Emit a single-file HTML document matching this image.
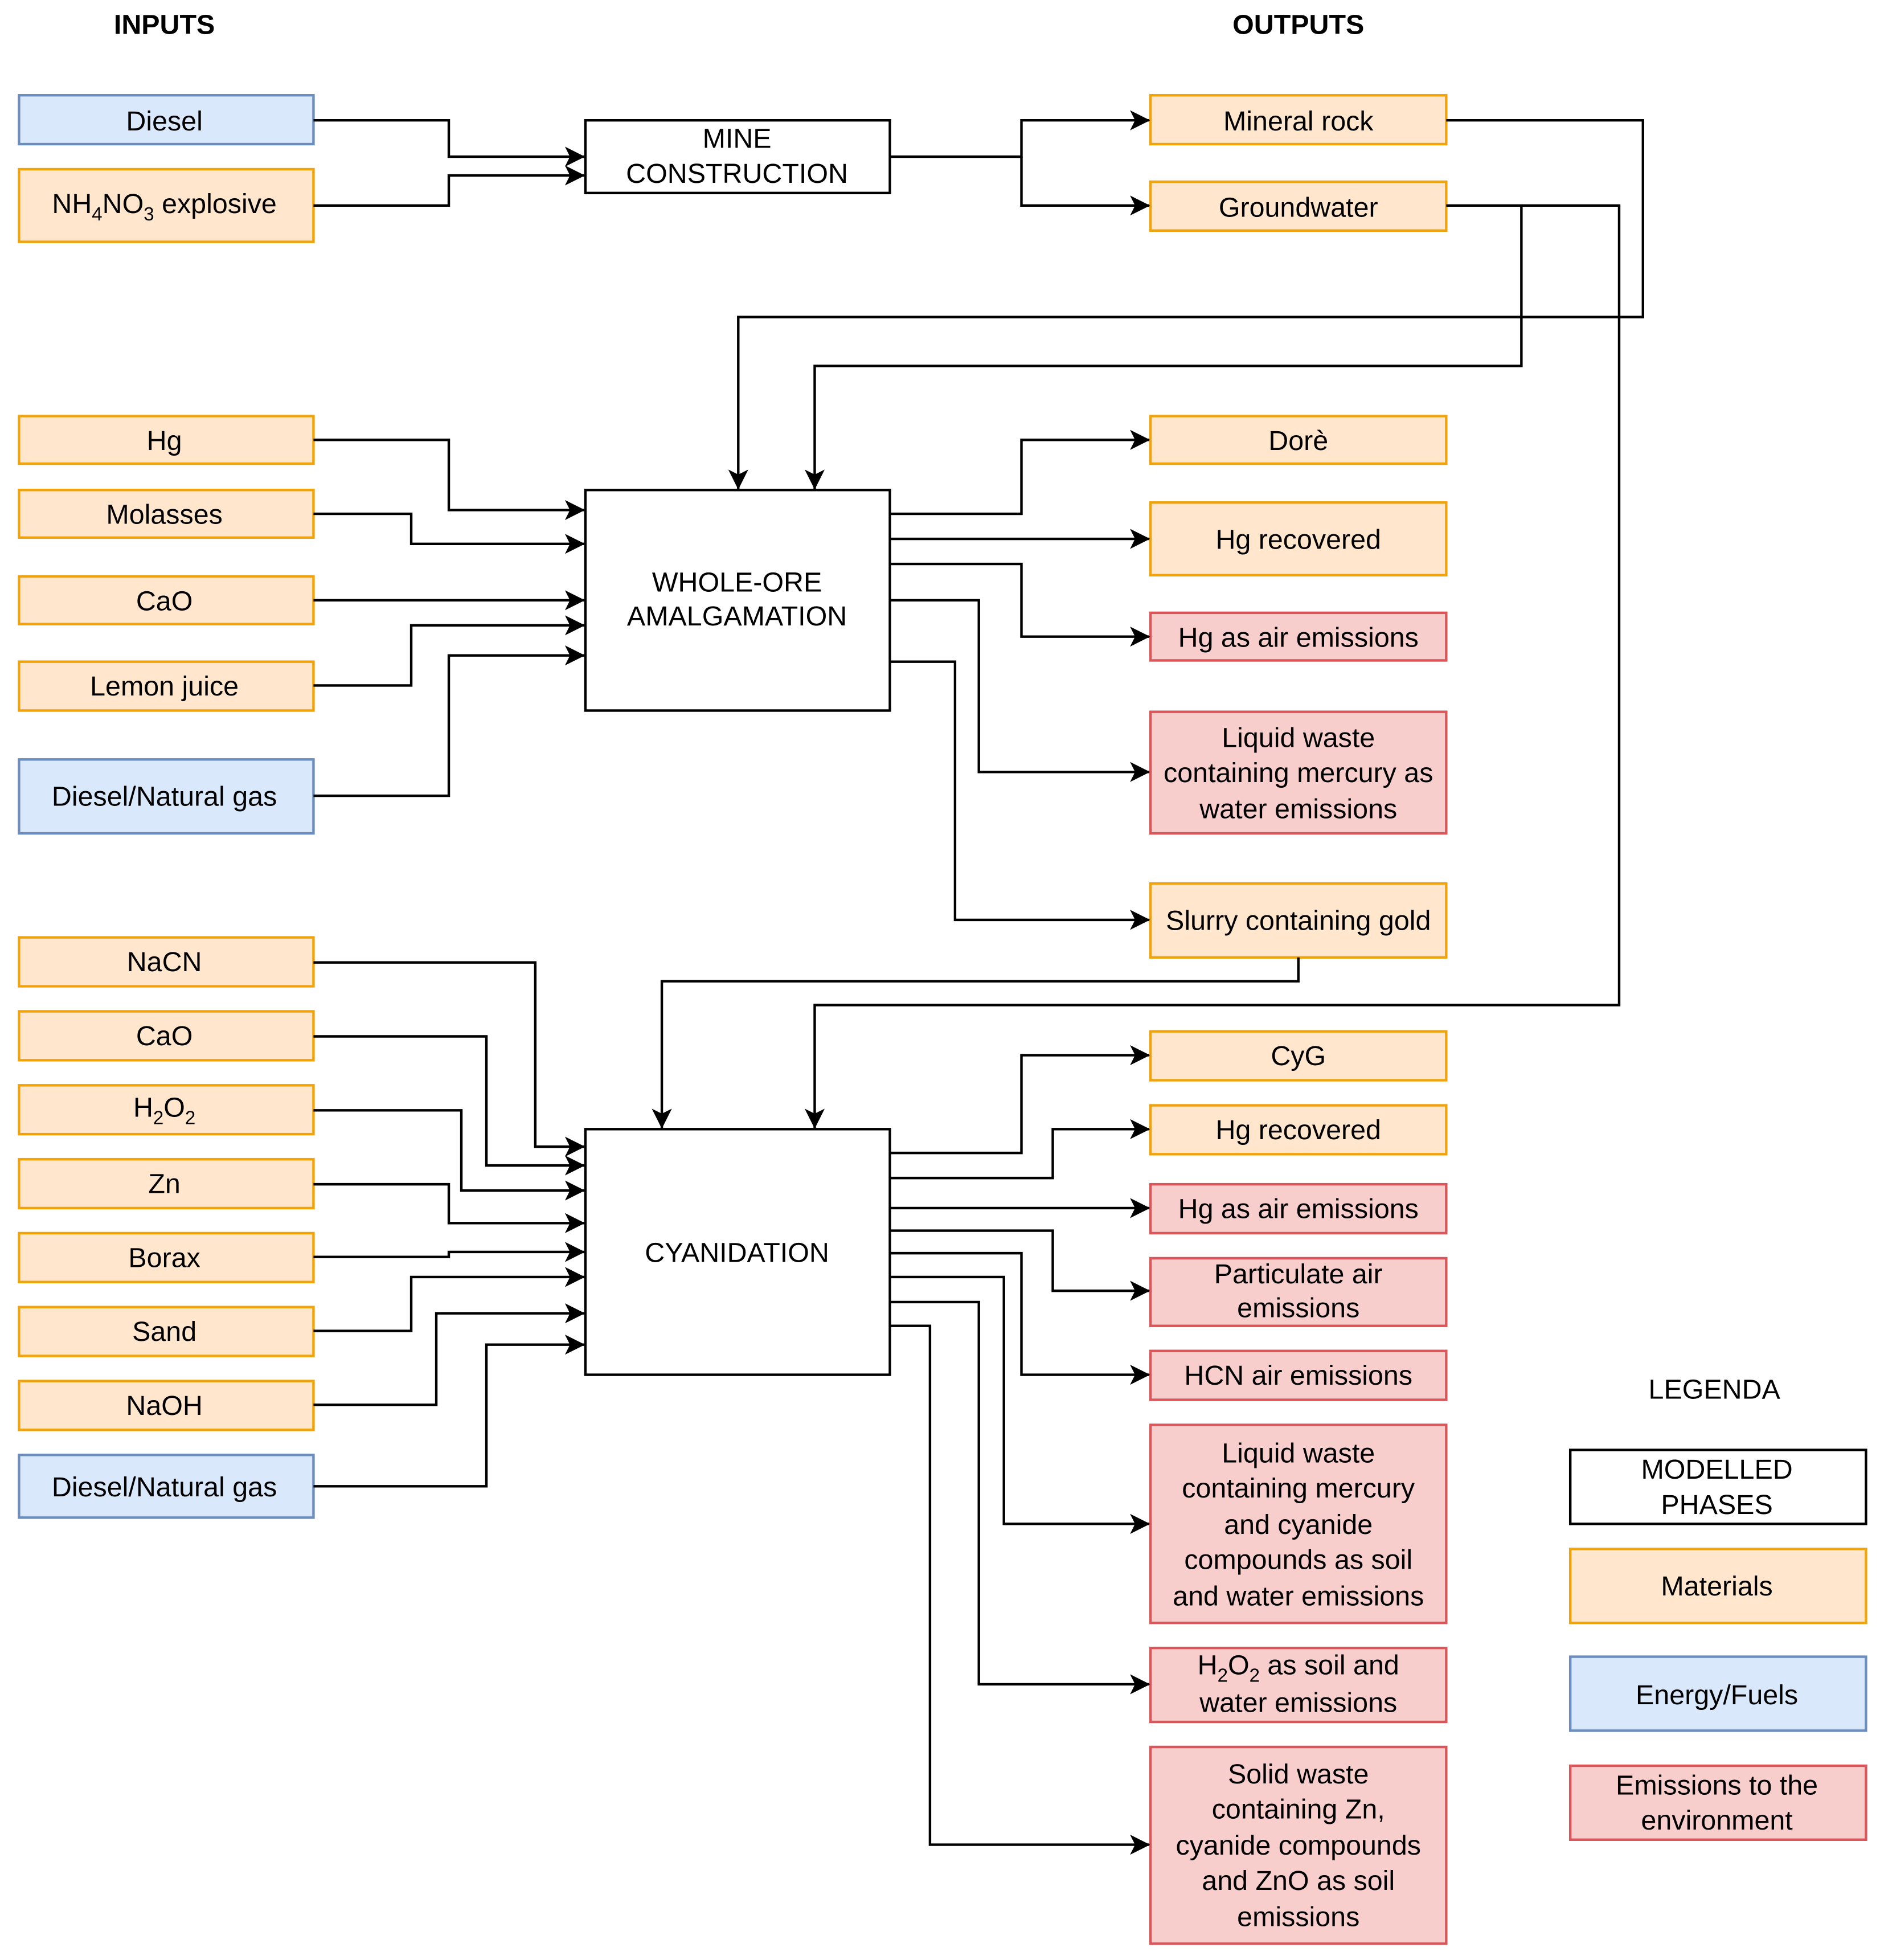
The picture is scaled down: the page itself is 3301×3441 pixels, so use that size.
<!DOCTYPE html>
<html><head><meta charset="utf-8"><style>
html,body{margin:0;padding:0;background:#fff;}
svg{display:block;}
text{font-family:"Liberation Sans",Arial,sans-serif;font-size:22px;fill:#000;}
</style></head><body>
<svg width="3301" height="3441" viewBox="0 0 1500 1564" xmlns="http://www.w3.org/2000/svg">
<defs>
<marker id="a" viewBox="0 0 12 12" refX="11.5" refY="6" markerWidth="16" markerHeight="16" markerUnits="userSpaceOnUse" orient="auto">
<path d="M0,0 L12,6 L0,12 L3,6 Z" fill="#000"/>
</marker>
</defs>
<style>
.m{fill:#ffe6cc;stroke:#f0a30a;stroke-width:2}
.e{fill:#dae8fc;stroke:#6c8ebf;stroke-width:2}
.r{fill:#f8cecc;stroke:#d9575a;stroke-width:2}
.p{fill:#fff;stroke:#000;stroke-width:2}
.c{fill:none;stroke:#000;stroke-width:2;marker-end:url(#a)}
</style>
<text x="131" y="27" text-anchor="middle" font-weight="bold">INPUTS</text>
<text x="1036" y="27" text-anchor="middle" font-weight="bold">OUTPUTS</text>

<rect class="e" x="15" y="76" width="235" height="39"/><text x="131" y="104" text-anchor="middle">Diesel</text>
<rect class="m" x="15" y="135" width="235" height="58"/><text x="131" y="170" text-anchor="middle">NH<tspan font-size="15" dy="6">4</tspan><tspan dy="-6">NO</tspan><tspan font-size="15" dy="6">3</tspan><tspan dy="-6"> explosive</tspan></text>

<rect class="m" x="15" y="332" width="235" height="38"/><text x="131" y="359" text-anchor="middle">Hg</text>
<rect class="m" x="15" y="391" width="235" height="38"/><text x="131" y="418" text-anchor="middle">Molasses</text>
<rect class="m" x="15" y="460" width="235" height="38"/><text x="131" y="487" text-anchor="middle">CaO</text>
<rect class="m" x="15" y="528" width="235" height="39"/><text x="131" y="555" text-anchor="middle">Lemon juice</text>
<rect class="e" x="15" y="606" width="235" height="59"/><text x="131" y="643" text-anchor="middle">Diesel/Natural gas</text>

<rect class="m" x="15" y="748" width="235" height="39"/><text x="131" y="775" text-anchor="middle">NaCN</text>
<rect class="m" x="15" y="807" width="235" height="39"/><text x="131" y="834" text-anchor="middle">CaO</text>
<rect class="m" x="15" y="866" width="235" height="39"/><text x="131" y="891" text-anchor="middle">H<tspan font-size="15" dy="6">2</tspan><tspan dy="-6">O</tspan><tspan font-size="15" dy="6">2</tspan></text>
<rect class="m" x="15" y="925" width="235" height="39"/><text x="131" y="952" text-anchor="middle">Zn</text>
<rect class="m" x="15" y="984" width="235" height="39"/><text x="131" y="1011" text-anchor="middle">Borax</text>
<rect class="m" x="15" y="1043" width="235" height="39"/><text x="131" y="1070" text-anchor="middle">Sand</text>
<rect class="m" x="15" y="1102" width="235" height="39"/><text x="131" y="1129" text-anchor="middle">NaOH</text>
<rect class="e" x="15" y="1161" width="235" height="50"/><text x="131" y="1194" text-anchor="middle">Diesel/Natural gas</text>

<rect class="p" x="467" y="96" width="243" height="58"/>
<text x="588" y="118" text-anchor="middle">MINE</text><text x="588" y="146" text-anchor="middle">CONSTRUCTION</text>
<rect class="p" x="467" y="391" width="243" height="176"/>
<text x="588" y="472" text-anchor="middle">WHOLE-ORE</text><text x="588" y="499" text-anchor="middle">AMALGAMATION</text>
<rect class="p" x="467" y="901" width="243" height="196"/>
<text x="588" y="1007" text-anchor="middle">CYANIDATION</text>

<rect class="m" x="918" y="76" width="236" height="39"/><text x="1036" y="104" text-anchor="middle">Mineral rock</text>
<rect class="m" x="918" y="145" width="236" height="39"/><text x="1036" y="173" text-anchor="middle">Groundwater</text>
<rect class="m" x="918" y="332" width="236" height="38"/><text x="1036" y="359" text-anchor="middle">Dorè</text>
<rect class="m" x="918" y="401" width="236" height="58"/><text x="1036" y="438" text-anchor="middle">Hg recovered</text>
<rect class="r" x="918" y="489" width="236" height="38"/><text x="1036" y="516" text-anchor="middle">Hg as air emissions</text>
<rect class="r" x="918" y="568" width="236" height="97"/>
<text x="1036" y="596" text-anchor="middle">Liquid waste</text><text x="1036" y="624" text-anchor="middle">containing mercury as</text><text x="1036" y="653" text-anchor="middle">water emissions</text>
<rect class="m" x="918" y="705" width="236" height="59"/><text x="1036" y="742" text-anchor="middle">Slurry containing gold</text>

<rect class="m" x="918" y="823" width="236" height="39"/><text x="1036" y="850" text-anchor="middle">CyG</text>
<rect class="m" x="918" y="882" width="236" height="39"/><text x="1036" y="909" text-anchor="middle">Hg recovered</text>
<rect class="r" x="918" y="945" width="236" height="39"/><text x="1036" y="972" text-anchor="middle">Hg as air emissions</text>
<rect class="r" x="918" y="1004" width="236" height="54"/>
<text x="1036" y="1024" text-anchor="middle">Particulate air</text><text x="1036" y="1051" text-anchor="middle">emissions</text>
<rect class="r" x="918" y="1078" width="236" height="39"/><text x="1036" y="1105" text-anchor="middle">HCN air emissions</text>
<rect class="r" x="918" y="1137" width="236" height="158"/>
<text x="1036" y="1167" text-anchor="middle">Liquid waste</text><text x="1036" y="1195" text-anchor="middle">containing mercury</text><text x="1036" y="1224" text-anchor="middle">and cyanide</text><text x="1036" y="1252" text-anchor="middle">compounds as soil</text><text x="1036" y="1281" text-anchor="middle">and water emissions</text>
<rect class="r" x="918" y="1315" width="236" height="59"/>
<text x="1036" y="1336" text-anchor="middle">H<tspan font-size="15" dy="6">2</tspan><tspan dy="-6">O</tspan><tspan font-size="15" dy="6">2</tspan><tspan dy="-6"> as soil and</tspan></text><text x="1036" y="1366" text-anchor="middle">water emissions</text>
<rect class="r" x="918" y="1394" width="236" height="157"/>
<text x="1036" y="1423" text-anchor="middle">Solid waste</text><text x="1036" y="1451" text-anchor="middle">containing Zn,</text><text x="1036" y="1480" text-anchor="middle">cyanide compounds</text><text x="1036" y="1508" text-anchor="middle">and ZnO as soil</text><text x="1036" y="1537" text-anchor="middle">emissions</text>

<text x="1368" y="1116" text-anchor="middle">LEGENDA</text>
<rect class="p" x="1253" y="1157" width="236" height="59"/>
<text x="1370" y="1180" text-anchor="middle">MODELLED</text><text x="1370" y="1208" text-anchor="middle">PHASES</text>
<rect class="m" x="1253" y="1236" width="236" height="59"/><text x="1370" y="1273" text-anchor="middle">Materials</text>
<rect class="e" x="1253" y="1322" width="236" height="59"/><text x="1370" y="1360" text-anchor="middle">Energy/Fuels</text>
<rect class="r" x="1253" y="1409" width="236" height="59"/>
<text x="1370" y="1432" text-anchor="middle">Emissions to the</text><text x="1370" y="1460" text-anchor="middle">environment</text>

<polyline class="c" points="250,96 358,96 358,125 466,125"/>
<polyline class="c" points="250,164 358,164 358,140 466,140"/>
<polyline class="c" points="710,125 815,125 815,96 917,96"/>
<polyline class="c" points="815,125 815,164 917,164"/>
<polyline class="c" points="1154,96 1311,96 1311,253 589,253 589,390"/>
<polyline class="c" points="1154,164 1214,164 1214,292 650,292 650,390"/>
<polyline class="c" points="1214,164 1292,164 1292,802 650,802 650,900"/>

<polyline class="c" points="250,351 358,351 358,407 466,407"/>
<polyline class="c" points="250,410 328,410 328,434 466,434"/>
<polyline class="c" points="250,479 466,479"/>
<polyline class="c" points="250,547 328,547 328,499 466,499"/>
<polyline class="c" points="250,635 358,635 358,523 466,523"/>
<polyline class="c" points="710,410 815,410 815,351 917,351"/>
<polyline class="c" points="710,430 917,430"/>
<polyline class="c" points="710,450 815,450 815,508 917,508"/>
<polyline class="c" points="710,479 781,479 781,616 917,616"/>
<polyline class="c" points="710,528 762,528 762,734 917,734"/>
<polyline class="c" points="1036,764 1036,783 528,783 528,900"/>

<polyline class="c" points="250,768 427,768 427,915 466,915"/>
<polyline class="c" points="250,827 388,827 388,930 466,930"/>
<polyline class="c" points="250,886 368,886 368,950 466,950"/>
<polyline class="c" points="250,945 358,945 358,976 466,976"/>
<polyline class="c" points="250,1003 358,1003 358,999 466,999"/>
<polyline class="c" points="250,1062 328,1062 328,1019 466,1019"/>
<polyline class="c" points="250,1121 348,1121 348,1048 466,1048"/>
<polyline class="c" points="250,1186 388,1186 388,1073 466,1073"/>
<polyline class="c" points="710,920 815,920 815,842 917,842"/>
<polyline class="c" points="710,940 840,940 840,901 917,901"/>
<polyline class="c" points="710,964 917,964"/>
<polyline class="c" points="710,982 840,982 840,1030 917,1030"/>
<polyline class="c" points="710,1000 815,1000 815,1097 917,1097"/>
<polyline class="c" points="710,1019 801,1019 801,1216 917,1216"/>
<polyline class="c" points="710,1039 781,1039 781,1344 917,1344"/>
<polyline class="c" points="710,1058 742,1058 742,1472 917,1472"/>
</svg>
</body></html>
